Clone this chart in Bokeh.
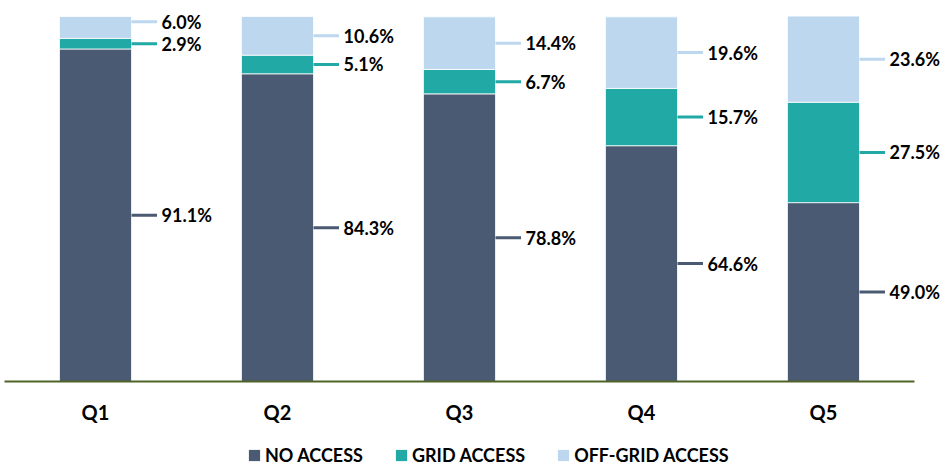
from bokeh.plotting import figure
from bokeh.layouts import column
from bokeh.models import ColumnDataSource, Range1d, Legend, LegendItem, FixedTicker
from bokeh.core.properties import value
from bokeh.embed import file_html
from bokeh.resources import INLINE

categories = ["Q1", "Q2", "Q3", "Q4", "Q5"]
no_access = [91.1, 84.3, 78.8, 64.6, 49.0]
grid_access = [2.9, 5.1, 6.7, 15.7, 27.5]
off_grid_access = [6.0, 10.6, 14.4, 19.6, 23.6]
series_names = ["NO ACCESS", "GRID ACCESS", "OFF-GRID ACCESS"]
colors = ["#4a5a72", "#21a9a5", "#bdd7ee"]

FONT = "Lato"
BAR_W = 0.396
LEAD = 0.14
GAP = 0.165

x = list(range(len(categories)))
src = ColumnDataSource(dict(x=x, no=no_access, grid=grid_access, off=off_grid_access))

p = figure(width=950, height=436, output_backend="svg", toolbar_location=None,
           x_range=Range1d(-0.522, 4.698), y_range=Range1d(-1.92, 104.38),
           min_border_left=0, min_border_right=0, min_border_top=0, min_border_bottom=48)
p.outline_line_color = None
p.grid.visible = False
p.yaxis.visible = False

rs = p.vbar_stack(["no", "grid", "off"], x="x", width=BAR_W, source=src,
                  color=colors, line_color="white", line_width=0.8)

# baseline
p.segment(x0=[-0.5], y0=[0], x1=[len(categories) - 0.5], y1=[0],
          line_color="#4f6228", line_width=2)

# data labels with leader lines
series = [no_access, grid_access, off_grid_access]
bottoms = [0.0] * len(categories)
mids = []
for s in series:
    m = []
    for i, v in enumerate(s):
        m.append(bottoms[i] + v / 2.0)
        bottoms[i] += v
    mids.append(m)
# avoid overlap of small top labels
for k in (1, 2):
    for i in range(len(categories)):
        if mids[k][i] - mids[k - 1][i] < 6:
            mids[k][i] = mids[k - 1][i] + 6

for s, m, c in zip(series, mids, colors):
    x0 = [xi + BAR_W / 2 for xi in x]
    x1 = [xi + BAR_W / 2 + LEAD for xi in x]
    p.segment(x0=x0, y0=m, x1=x1, y1=m, line_color=c, line_width=3)
    p.text(x=[xi + BAR_W / 2 + GAP for xi in x], y=m,
           text=["%.1f%%" % v for v in s], text_font=value(FONT),
           text_font_style="bold", text_font_size="18px", text_color="black",
           text_align="left", text_baseline="middle")

ax = p.xaxis[0]
ax.ticker = FixedTicker(ticks=x)
ax.major_label_overrides = {i: c for i, c in zip(x, categories)}
ax.axis_line_color = None
ax.major_tick_line_color = None
ax.minor_tick_line_color = None
ax.major_tick_out = 0
ax.major_tick_in = 0
ax.major_label_standoff = 11
ax.major_label_text_font = FONT
ax.major_label_text_font_style = "bold"
ax.major_label_text_font_size = "20px"
ax.major_label_text_color = "black"

# legend in a thin strip figure below the chart (zero-height swatch glyphs)
lg = figure(width=950, height=30, output_backend="svg", toolbar_location=None,
            x_range=Range1d(0, 1), y_range=Range1d(0, 1),
            min_border_left=0, min_border_right=0, min_border_top=0, min_border_bottom=0)
lg.axis.visible = False
lg.grid.visible = False
lg.outline_line_color = None
swatch = ColumnDataSource(dict(x=[0.5], top=[0.0]))
dummies = [lg.vbar(x="x", top="top", bottom=0.0, width=0.01, source=swatch,
                   fill_color=c, line_alpha=0) for c in colors]
legend = Legend(items=[LegendItem(label=n, renderers=[r]) for n, r in zip(series_names, dummies)],
                orientation="horizontal", location=(247, 0))
legend.label_text_font = FONT
legend.label_text_font_style = "bold"
legend.label_text_font_size = "18px"
legend.label_text_color = "black"
legend.glyph_width = 14
legend.glyph_height = 14
legend.label_standoff = 4
legend.spacing = 31
legend.border_line_color = None
legend.background_fill_alpha = 0
legend.padding = 0
legend.margin = 0
lg.add_layout(legend)

open("out.html", "w").write(file_html(column(p, lg, spacing=0), INLINE))
